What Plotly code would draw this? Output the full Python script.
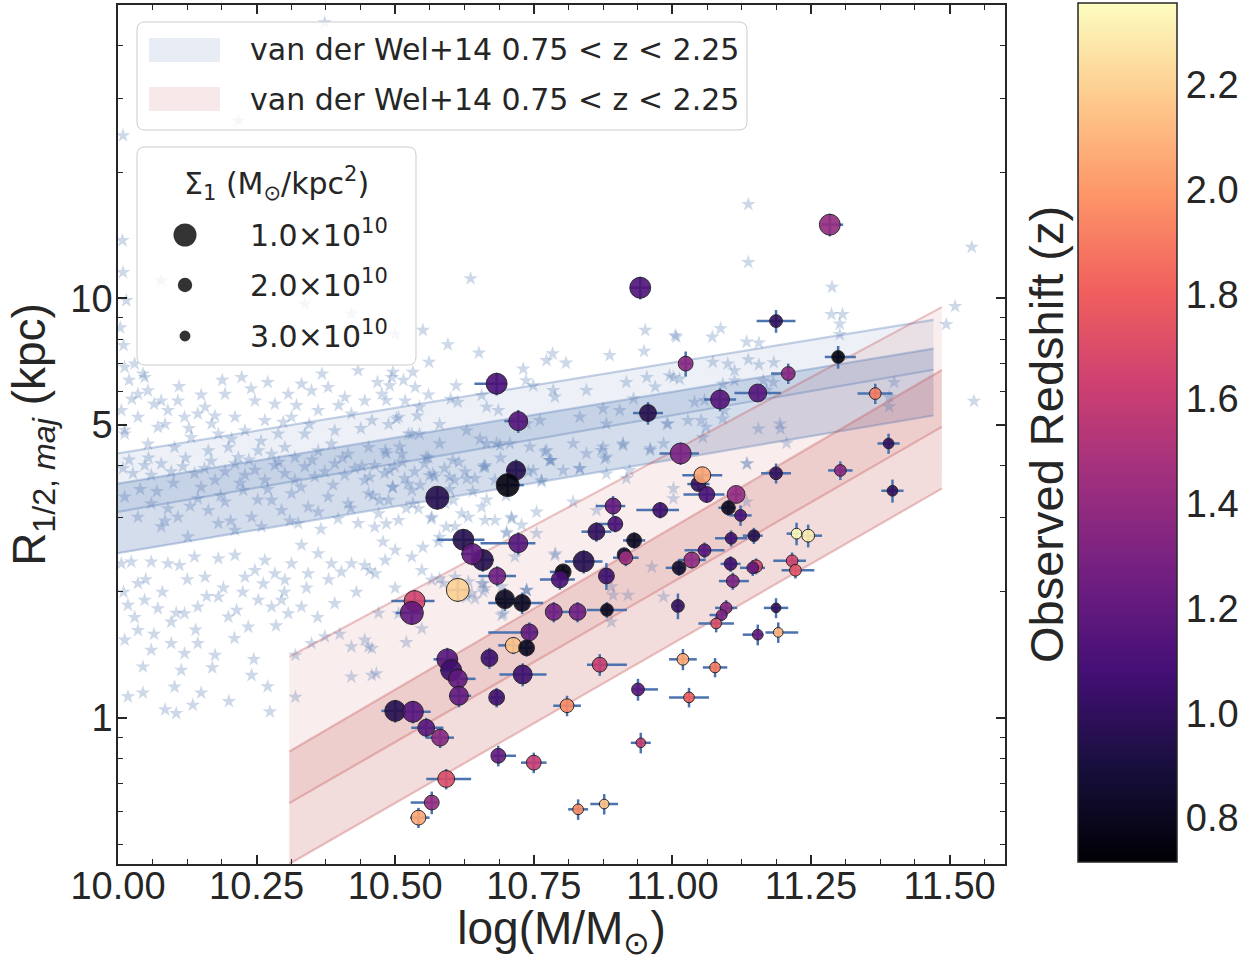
import numpy as np
import plotly.graph_objects as go

# ---------------- galaxy sample ----------------
mass = [11.284, 10.942, 11.187, 11.299, 11.024, 11.209, 10.683, 11.086, 11.154, 11.366,
        10.722, 10.956, 11.015, 11.390, 11.303, 11.187, 11.397, 11.047, 11.054, 11.062,
        11.115, 11.101, 11.123, 10.893, 10.978, 10.897, 10.863, 10.931, 10.840, 10.913,
        10.916, 10.803, 10.797, 10.881, 11.012, 11.035, 11.058, 11.106, 11.147, 11.224,
        11.245, 11.105, 11.151, 11.145, 11.109, 11.216, 11.222, 11.010, 11.097, 11.089,
        11.079, 11.187, 11.154, 11.191, 11.019, 11.077, 10.938, 11.030, 10.869, 10.810,
        10.943, 10.686, 10.750, 10.830, 10.877, 10.683, 10.730, 10.670, 10.742, 10.713,
        10.737, 10.786, 10.829, 10.882, 10.698, 10.729, 10.684, 10.722, 10.623, 10.658,
        10.639, 10.613, 10.535, 10.530, 10.594, 10.601, 10.613, 10.615, 10.500, 10.532,
        10.556, 10.581, 10.592, 10.566, 10.542, 10.576, 10.718, 10.703]

r_half = [14.98, 10.6, 8.83, 7.25, 6.99, 6.62, 6.26, 5.74, 5.95, 5.93,
          5.10, 5.33, 4.27, 4.51, 3.89, 3.83, 3.48, 3.61, 3.79, 3.41,
          3.41, 3.17, 3.04, 3.20, 3.13, 2.90, 2.78, 2.65, 2.36, 2.45,
          2.41, 2.23, 2.14, 2.18, 2.28, 2.38, 2.51, 2.68, 2.72, 2.75,
          2.72, 2.33, 2.30, 2.28, 2.12, 2.37, 2.25, 1.85, 1.83, 1.76,
          1.68, 1.83, 1.58, 1.60, 1.38, 1.32, 1.17, 1.12, 1.34, 1.07,
          0.873, 0.813, 0.783, 0.606, 0.624, 1.12, 1.27, 1.39, 1.60, 1.49,
          1.47, 1.79, 1.79, 1.81, 1.92, 1.88, 2.18, 2.61, 2.66, 2.38,
          2.46, 2.02, 1.90, 1.78, 1.38, 1.30, 1.24, 1.13, 1.04, 1.035,
          0.948, 0.898, 0.716, 0.629, 0.579, 3.35, 3.89, 3.59]

redshift = [1.40, 1.12, 1.00, 0.75, 1.35, 1.35, 1.10, 1.15, 1.15, 1.90,
            1.15, 0.95, 1.30, 1.00, 1.35, 1.00, 1.00, 1.00, 2.05, 1.10,
            1.40, 0.80, 1.10, 1.20, 1.05, 1.10, 1.00, 0.80, 0.95, 0.85,
            1.45, 0.75, 1.10, 1.05, 0.85, 1.40, 1.15, 1.05, 0.95, 2.35,
            2.30, 1.05, 1.65, 1.20, 1.30, 1.65, 1.75, 1.00, 1.35, 1.30,
            1.70, 1.00, 1.20, 2.10, 2.05, 1.90, 1.15, 1.80, 1.60, 1.95,
            1.60, 1.20, 1.60, 1.95, 2.15, 1.05, 1.05, 1.05, 1.20, 2.15,
            0.80, 1.25, 1.25, 0.80, 0.80, 0.80, 1.25, 1.15, 0.95, 0.95,
            1.20, 2.20, 1.65, 1.20, 1.15, 1.05, 1.20, 1.20, 0.95, 1.15,
            1.15, 1.35, 1.70, 1.40, 2.05, 0.95, 0.95, 0.75]

# Sigma_1 in units of 1e10 Msun / kpc^2
sigma1 = [1.15, 1.15, 2.38, 2.38, 1.91, 2.12, 1.15, 1.33, 1.45, 2.69,
          1.33, 1.58, 1.15, 3.08, 2.69, 2.38, 3.08, 1.91, 1.58, 1.73,
          1.45, 2.12, 2.69, 1.73, 1.91, 1.91, 1.58, 1.91, 1.15, 2.12,
          2.12, 1.73, 1.58, 1.73, 2.12, 1.73, 2.38, 2.69, 2.69, 3.08,
          2.38, 2.38, 2.38, 2.69, 2.38, 2.69, 2.69, 2.38, 2.69, 3.08,
          3.08, 3.58, 3.08, 3.58, 2.69, 3.08, 2.38, 3.08, 1.91, 2.12,
          3.58, 1.91, 1.91, 3.08, 3.58, 1.73, 1.33, 1.58, 1.58, 1.73,
          1.73, 1.58, 1.58, 2.38, 1.33, 1.58, 1.58, 1.33, 1.15, 1.15,
          1.15, 1.00, 1.15, 1.00, 1.15, 1.15, 1.33, 1.33, 1.15, 1.15,
          1.58, 1.58, 1.58, 1.91, 1.91, 1.00, 1.33, 1.00]

mass_err_lo = [0.015, 0.018, 0.035, 0.024, 0.010, 0.031, 0.040, 0.029, 0.042, 0.032,
               0.025, 0.027, 0.038, 0.020, 0.022, 0.027, 0.020, 0.020, 0.036, 0.042,
               0.010, 0.018, 0.020, 0.031, 0.043, 0.031, 0.027, 0.020, 0.034, 0.010,
               0.023, 0.024, 0.036, 0.010, 0.024, 0.025, 0.036, 0.029, 0.020, 0.018,
               0.010, 0.018, 0.010, 0.023, 0.025, 0.034, 0.025, 0.005, 0.020, 0.022,
               0.032, 0.022, 0.027, 0.023, 0.025, 0.022, 0.010, 0.036, 0.023, 0.025,
               0.018, 0.010, 0.023, 0.018, 0.025, 0.010, 0.042, 0.010, 0.074, 0.027,
               0.010, 0.010, 0.029, 0.036, 0.018, 0.061, 0.034, 0.068, 0.047, 0.020,
               0.020, 0.020, 0.042, 0.029, 0.025, 0.020, 0.018, 0.018, 0.025, 0.018,
               0.027, 0.025, 0.036, 0.038, 0.015, 0.020, 0.018, 0.018]

mass_err_hi = [0.024, 0.018, 0.035, 0.032, 0.010, 0.011, 0.018, 0.029, 0.042, 0.031,
               0.016, 0.027, 0.033, 0.020, 0.022, 0.027, 0.020, 0.020, 0.036, 0.032,
               0.010, 0.013, 0.020, 0.022, 0.034, 0.014, 0.027, 0.020, 0.034, 0.010,
               0.023, 0.010, 0.027, 0.010, 0.010, 0.025, 0.036, 0.029, 0.016, 0.010,
               0.025, 0.018, 0.010, 0.022, 0.029, 0.025, 0.034, 0.005, 0.020, 0.010,
               0.032, 0.022, 0.010, 0.036, 0.025, 0.022, 0.036, 0.036, 0.049, 0.025,
               0.018, 0.032, 0.023, 0.018, 0.025, 0.010, 0.043, 0.010, 0.016, 0.010,
               0.010, 0.010, 0.014, 0.036, 0.018, 0.038, 0.034, 0.031, 0.038, 0.020,
               0.020, 0.020, 0.036, 0.018, 0.018, 0.020, 0.032, 0.022, 0.018, 0.032,
               0.031, 0.025, 0.045, 0.010, 0.020, 0.020, 0.018, 0.029]

r_err = [0.93, 0.66, 0.55, 0.45, 0.48, 0.37, 0.39, 0.36, 0.20, 0.33,
         0.32, 0.33, 0.26, 0.25, 0.20, 0.21, 0.22, 0.12, 0.17, 0.15,
         0.15, 0.14, 0.17, 0.18, 0.14, 0.13, 0.15, 0.12, 0.15, 0.08,
         0.11, 0.07, 0.12, 0.16, 0.10, 0.11, 0.11, 0.12, 0.12, 0.17,
         0.17, 0.10, 0.10, 0.10, 0.10, 0.11, 0.10, 0.13, 0.08, 0.06,
         0.08, 0.10, 0.09, 0.09, 0.08, 0.07, 0.07, 0.06, 0.08, 0.06,
         0.049, 0.046, 0.044, 0.034, 0.035, 0.06, 0.08, 0.08, 0.09, 0.07,
         0.07, 0.10, 0.10, 0.08, 0.12, 0.11, 0.12, 0.16, 0.16, 0.15,
         0.15, 0.13, 0.12, 0.11, 0.09, 0.08, 0.08, 0.07, 0.065, 0.064,
         0.053, 0.050, 0.040, 0.039, 0.032, 0.21, 0.24, 0.22]

# ---------------- background comparison sample (log M, log R) ----------------
background_stars = [
    (10.012, 0.836), (10.030, 0.844), (10.048, 0.812), (10.036, 0.772), (10.054, 0.780),
    (10.078, 0.756), (10.090, 0.733), (10.108, 0.756), (10.120, 0.717), (10.144, 0.725),
    (10.157, 0.741), (10.169, 0.701), (10.181, 0.677), (10.193, 0.772), (10.211, 0.717),
    (10.223, 0.812), (10.229, 0.685), (10.247, 0.756), (10.265, 0.709), (10.283, 0.748),
    (10.289, 0.677), (10.307, 0.772), (10.313, 0.717), (10.331, 0.796), (10.337, 0.677),
    (10.349, 0.780), (10.361, 0.733), (10.379, 0.788), (10.391, 0.685), (10.409, 0.764),
    (10.421, 0.725), (10.433, 0.828), (10.445, 0.756), (10.458, 0.709), (10.476, 0.772),
    (10.494, 0.812), (10.506, 0.717), (10.518, 0.756), (10.524, 0.677), (10.536, 0.788),
    (10.012, 0.677), (10.036, 0.717), (10.054, 0.653), (10.072, 0.693), (10.102, 0.645),
    (10.132, 0.669), (10.163, 0.637), (10.199, 0.645), (10.217, 0.621), (10.253, 0.637),
    (10.277, 0.629), (10.301, 0.645), (10.319, 0.621), (10.361, 0.637), (10.385, 0.653),
    (10.415, 0.629), (10.452, 0.645), (10.482, 0.637), (10.512, 0.629), (10.530, 0.677),
    (10.009, 1.388), (10.009, 1.062), (10.217, 1.423), (10.078, 1.042), (10.337, 0.987),
    (10.421, 0.963), (10.500, 0.915), (10.373, 1.657),
    (10.009, 0.595), (10.027, 0.583), (10.048, 0.602), (10.060, 0.579), (10.078, 0.606),
    (10.096, 0.587), (10.117, 0.599), (10.138, 0.583), (10.156, 0.595), (10.175, 0.567),
    (10.193, 0.587), (10.211, 0.606), (10.229, 0.579), (10.247, 0.591), (10.265, 0.567),
    (10.283, 0.602), (10.301, 0.583), (10.319, 0.567), (10.337, 0.599), (10.355, 0.575),
    (10.373, 0.587), (10.391, 0.606), (10.409, 0.579), (10.427, 0.595), (10.445, 0.567),
    (10.463, 0.602), (10.481, 0.583), (10.499, 0.599), (10.517, 0.571), (10.535, 0.587),
    (10.553, 0.606), (10.571, 0.575), (10.589, 0.595), (10.607, 0.567), (10.626, 0.587),
    (10.644, 0.571), (10.662, 0.602), (10.680, 0.567), (10.740, 0.587), (10.764, 0.567),
    (10.782, 0.614),
    (10.012, 0.527), (10.036, 0.479), (10.060, 0.511), (10.078, 0.456), (10.090, 0.499),
    (10.108, 0.479), (10.126, 0.432), (10.144, 0.523), (10.163, 0.495), (10.181, 0.464),
    (10.193, 0.515), (10.211, 0.448), (10.226, 0.543), (10.241, 0.479), (10.259, 0.456),
    (10.277, 0.519), (10.295, 0.495), (10.313, 0.535), (10.325, 0.464), (10.343, 0.503),
    (10.361, 0.491), (10.379, 0.527), (10.397, 0.475), (10.415, 0.511), (10.433, 0.464),
    (10.452, 0.535), (10.470, 0.487), (10.488, 0.519), (10.506, 0.471), (10.530, 0.543),
    (10.542, 0.499), (10.566, 0.479), (10.590, 0.511), (10.608, 0.456), (10.632, 0.479),
    (10.656, 0.503), (10.680, 0.471), (10.710, 0.479), (10.728, 0.460),
    (10.006, 0.368), (10.024, 0.372), (10.036, 0.321), (10.060, 0.372), (10.090, 0.368),
    (10.111, 0.364), (10.138, 0.384), (10.157, 0.336), (10.181, 0.380), (10.211, 0.388),
    (10.229, 0.336), (10.247, 0.352), (10.265, 0.376), (10.283, 0.344), (10.301, 0.329),
    (10.313, 0.368), (10.331, 0.412), (10.343, 0.344), (10.361, 0.392), (10.385, 0.368),
    (10.403, 0.348), (10.421, 0.368), (10.445, 0.364), (10.464, 0.344), (10.482, 0.376),
    (10.500, 0.400), (10.530, 0.384), (10.548, 0.352), (10.566, 0.329), (10.587, 0.321),
    (10.608, 0.336), (10.632, 0.325), (10.662, 0.309), (10.692, 0.313), (10.789, 0.392),
    (10.018, 0.269), (10.048, 0.281), (10.072, 0.261), (10.096, 0.229), (10.120, 0.249),
    (10.144, 0.265), (10.181, 0.289), (10.199, 0.241), (10.214, 0.257), (10.235, 0.217),
    (10.253, 0.281), (10.277, 0.265), (10.295, 0.281), (10.307, 0.249), (10.331, 0.265),
    (10.349, 0.178), (10.373, 0.194), (10.391, 0.273), (10.421, 0.170), (10.445, 0.186),
    (10.458, 0.166), (10.506, 0.249), (10.548, 0.213), (10.638, 0.297), (10.656, 0.321),
    (10.737, 0.305),
    (10.012, 0.186), (10.018, 0.051), (10.036, 0.209), (10.045, 0.122), (10.060, 0.162),
    (10.096, 0.178), (10.120, 0.154), (10.144, 0.178), (10.102, 0.074), (10.114, 0.114),
    (10.135, 0.031), (10.175, 0.150), (10.241, 0.102), (10.274, 0.015), (10.105, 0.011),
    (10.421, 0.098), (10.458, 0.102), (10.452, 0.170),
    (10.636, 1.047), (10.550, 0.924), (10.595, 0.890), (10.651, 0.870), (10.561, 0.848),
    (10.532, 0.824), (10.496, 0.824), (10.484, 0.757), (10.490, 0.792), (10.610, 0.792),
    (10.613, 0.753), (10.502, 0.713), (10.544, 0.741), (10.656, 0.769), (10.665, 0.741),
    (10.686, 0.733), (10.731, 0.832), (10.736, 0.804), (10.749, 0.792), (10.773, 0.852),
    (10.784, 0.868), (10.808, 0.846), (10.785, 0.781), (10.788, 0.765), (10.845, 0.781),
    (10.887, 0.864), (10.917, 0.800), (10.951, 0.924), (10.949, 0.874), (10.954, 0.812),
    (10.969, 0.789), (11.005, 0.912), (11.002, 0.812), (10.833, 0.717), (10.875, 0.737),
    (10.881, 0.701), (10.905, 0.733), (10.930, 0.761), (10.990, 0.701), (10.544, 0.677),
    (10.580, 0.654), (10.629, 0.685), (10.653, 0.665), (10.683, 0.654), (10.707, 0.654),
    (10.737, 0.701), (10.761, 0.709), (10.773, 0.638), (10.779, 0.614), (10.821, 0.654),
    (10.845, 0.630), (10.875, 0.646), (10.881, 0.622), (10.911, 0.654), (10.960, 0.638),
    (10.984, 0.654), (10.484, 0.630), (10.508, 0.646), (10.556, 0.622), (10.604, 0.614),
    (10.659, 0.598), (10.568, 0.582), (10.490, 0.590), (10.749, 0.590), (10.803, 0.590),
    (10.833, 0.594), (10.881, 0.582), (10.923, 0.590),
    (11.137, 1.224), (11.137, 1.086), (11.288, 1.027), (11.287, 0.962), (11.307, 0.962),
    (11.302, 0.939), (11.302, 0.914), (11.540, 1.122), (11.510, 0.981), (11.494, 0.938),
    (11.544, 0.755), (11.007, 0.908), (11.072, 0.908), (11.087, 0.928), (11.134, 0.896),
    (11.156, 0.894), (11.073, 0.848), (11.100, 0.844), (11.112, 0.828), (11.137, 0.854),
    (11.156, 0.842), (11.183, 0.847), (10.995, 0.816), (11.013, 0.808), (11.091, 0.796),
    (11.112, 0.804), (11.164, 0.804), (11.182, 0.800), (11.040, 0.753), (11.058, 0.757),
    (11.094, 0.733), (11.170, 0.781), (10.992, 0.701), (11.028, 0.709), (11.052, 0.709),
    (11.061, 0.693), (11.091, 0.713), (11.155, 0.689), (11.194, 0.701), (11.195, 0.689),
    (11.206, 0.655), (11.055, 0.669), (11.135, 0.606), (11.400, 0.800), (11.391, 0.765),
    (11.391, 0.742),
    (10.662, 0.598), (10.665, 0.654), (10.689, 0.650), (10.743, 0.646), (10.770, 0.634),
    (10.779, 0.614), (10.833, 0.595), (10.872, 0.638), (10.878, 0.618), (10.911, 0.650),
    (10.960, 0.642), (10.764, 0.563), (10.821, 0.515), (10.755, 0.491), (10.710, 0.475),
    (10.662, 0.471), (10.701, 0.440), (10.755, 0.440), (10.863, 0.495), (10.917, 0.571),
    (11.002, 0.547), (11.002, 0.523), (11.134, 0.606), (11.134, 0.515), (10.788, 0.388),
    (10.716, 0.384), (10.737, 0.305), (10.659, 0.301), (10.692, 0.245), (10.890, 0.313),
    (10.893, 0.293), (10.920, 0.293), (10.963, 0.360), (10.984, 0.289), (10.890, 0.229),
    (10.454, 0.574), (10.496, 0.550), (10.523, 0.558), (10.562, 0.578), (10.598, 0.574),
    (10.629, 0.570), (10.472, 0.519), (10.532, 0.511), (10.565, 0.475), (10.605, 0.519),
    (10.620, 0.487), (10.463, 0.455), (10.484, 0.463), (10.550, 0.407), (10.580, 0.431),
    (10.592, 0.455), (10.701, 0.443), (10.647, 0.395), (10.580, 0.332), (10.659, 0.320),
    (10.644, 0.284), (10.629, 0.288), (10.737, 0.304), (10.695, 0.249), (10.454, 0.352),
    (10.466, 0.106),
    (10.008, 1.138), (10.015, 0.995), (10.010, 0.888), (10.020, 0.805), (10.006, 0.733),
    (10.012, 0.686), (10.025, 0.760), (10.004, 0.930),
    (10.045, 0.820), (10.065, 0.748), (10.085, 0.700), (10.110, 0.790), (10.128, 0.690),
    (10.150, 0.770), (10.175, 0.720), (10.188, 0.805), (10.205, 0.665), (10.240, 0.785),
    (10.258, 0.660), (10.270, 0.800), (10.298, 0.705), (10.322, 0.745), (10.345, 0.700),
    (10.368, 0.820), (10.398, 0.745), (10.438, 0.690), (10.468, 0.800), (10.488, 0.700),
    (10.515, 0.805), (10.540, 0.720), (10.560, 0.770), (10.580, 0.700), (10.600, 0.760),
    (10.020, 0.615), (10.040, 0.545), (10.055, 0.620), (10.070, 0.540), (10.085, 0.470),
    (10.100, 0.560), (10.122, 0.620), (10.130, 0.505), (10.150, 0.550), (10.168, 0.612),
    (10.185, 0.530), (10.203, 0.470), (10.220, 0.560), (10.236, 0.615), (10.252, 0.520),
    (10.270, 0.545), (10.290, 0.610), (10.310, 0.470), (10.330, 0.550), (10.350, 0.615),
    (10.366, 0.450), (10.388, 0.555), (10.405, 0.620), (10.420, 0.500), (10.440, 0.600),
    (10.460, 0.530), (10.478, 0.420), (10.495, 0.550), (10.513, 0.610), (10.520, 0.500),
    (10.545, 0.555), (10.560, 0.620), (10.578, 0.420), (10.598, 0.545), (10.615, 0.610),
    (10.640, 0.540), (10.665, 0.520), (10.690, 0.620), (10.700, 0.530), (10.720, 0.600),
    (10.010, 0.300), (10.030, 0.240), (10.050, 0.330), (10.065, 0.200), (10.080, 0.300),
    (10.105, 0.250), (10.125, 0.330), (10.140, 0.210), (10.160, 0.290), (10.170, 0.120),
    (10.190, 0.310), (10.210, 0.190), (10.225, 0.300), (10.245, 0.140), (10.262, 0.320),
    (10.285, 0.220), (10.300, 0.300), (10.320, 0.150), (10.340, 0.310), (10.360, 0.240),
    (10.380, 0.330), (10.400, 0.200), (10.430, 0.300), (10.470, 0.250), (10.500, 0.310),
    (10.520, 0.180), (10.045, 0.060), (10.085, 0.020), (10.150, 0.060), (10.200, 0.040),
    (10.270, 0.075), (10.320, 0.050),
]

# ---------------- van der Wel+14 bands (edge values, kpc) ----------------
late_mass = [10.0, 11.471]
late_upper_a = [4.27, 8.89]
late_lower_a = [3.10, 6.76]
late_upper_b = [3.62, 7.59]
late_lower_b = [2.47, 5.26]
early_mass = [10.309, 11.486]
early_upper_a = [1.40, 9.53]
early_lower_a = [0.627, 4.94]
early_upper_b = [0.832, 6.75]
early_lower_b = [0.449, 3.52]

legend_label = "van der Wel+14 0.75 &lt; z &lt; 2.25"
legend_sigma = [1.0, 2.0, 3.0]
legend_sigma_text = ["1.0×10<sup>10</sup>", "2.0×10<sup>10</sup>", "3.0×10<sup>10</sup>"]
x_ticks = [10.0, 10.25, 10.5, 10.75, 11.0, 11.25, 11.5]
y_ticks = [1, 5, 10]
y_minor = [0.5, 0.6, 0.7, 0.8, 0.9, 2, 3, 4, 6, 7, 8, 9, 20, 30, 40]
cbar_ticks = [0.8, 1.0, 1.2, 1.4, 1.6, 1.8, 2.0, 2.2]

# ---------------- styling helpers ----------------
W, H = 1252, 961
PL, PR, PT, PB = 118, 1005, 5, 864
BLUE = (76, 114, 176)
RED = (196, 78, 82)
INK = "#262626"
FONT = "Liberation Sans, Arial, sans-serif"
LFONT = "DejaVu Sans, sans-serif"


def rgba(c, a):
    return f"rgba({c[0]},{c[1]},{c[2]},{a})"


def sigma_to_size(s):
    return 23.0 * np.asarray(s, dtype=float) ** -0.68


def xp(px):
    return (px - PL) / (PR - PL)


def yp(py):
    return (PB - py) / (PB - PT)


def rrect(x0, y0, x1, y1, r=8):
    def P(x, y):
        return f"{xp(x):.5f},{yp(y):.5f}"
    return (f"M{P(x0 + r, y0)} L{P(x1 - r, y0)} Q{P(x1, y0)} {P(x1, y0 + r)} "
            f"L{P(x1, y1 - r)} Q{P(x1, y1)} {P(x1 - r, y1)} L{P(x0 + r, y1)} "
            f"Q{P(x0, y1)} {P(x0, y1 - r)} L{P(x0, y0 + r)} Q{P(x0, y0)} {P(x0 + r, y0)} Z")


fig = go.Figure()


def add_band(m, up, lo, color, alpha):
    fig.add_trace(go.Scatter(x=[m[0], m[1], m[1], m[0], m[0]],
                             y=[up[0], up[1], lo[1], lo[0], up[0]],
                             mode="lines", fill="toself", fillcolor=rgba(color, alpha),
                             line=dict(width=0), hoverinfo="skip", showlegend=False))


def add_edge(m, v, color):
    fig.add_trace(go.Scatter(x=m, y=v, mode="lines",
                             line=dict(color=rgba(color, 0.32), width=2.2),
                             hoverinfo="skip", showlegend=False))


add_band(late_mass, late_upper_a, late_lower_a, BLUE, 0.10)
add_band(late_mass, late_upper_b, late_lower_b, BLUE, 0.24)
add_band(early_mass, early_upper_a, early_lower_a, RED, 0.10)
add_band(early_mass, early_upper_b, early_lower_b, RED, 0.20)
for v in (late_upper_a, late_lower_a, late_upper_b, late_lower_b):
    add_edge(late_mass, v, BLUE)
for v in (early_upper_a, early_lower_a, early_upper_b, early_lower_b):
    add_edge(early_mass, v, RED)

star_mass = [p[0] for p in background_stars]
star_r = [10 ** p[1] for p in background_stars]
fig.add_trace(go.Scatter(x=star_mass, y=star_r, mode="markers",
                         marker=dict(symbol="star", size=11, color=rgba(BLUE, 0.28),
                                     line=dict(width=0)),
                         hoverinfo="skip", showlegend=False))

fig.add_trace(go.Scatter(
    x=mass, y=r_half, mode="markers", showlegend=False,
    error_x=dict(type="data", symmetric=False, array=mass_err_hi, arrayminus=mass_err_lo,
                 color="#4c72b0", thickness=2.5, width=0),
    error_y=dict(type="data", array=r_err, color="#4c72b0", thickness=2.5, width=0),
    marker=dict(size=sigma_to_size(sigma1), color=redshift, colorscale="Magma",
                cmin=0.716, cmax=2.356, opacity=0.9,
                line=dict(color="#1a1a1a", width=1),
                showscale=True,
                colorbar=dict(thickness=99, thicknessmode="pixels", len=859, lenmode="pixels",
                              x=xp(1078), xanchor="left", xref="paper",
                              y=yp(432.5), yanchor="middle", yref="paper",
                              xpad=0, ypad=0,
                              outlinewidth=1.5, outlinecolor=INK,
                              tickvals=cbar_ticks, ticktext=[f"{t:.1f}" for t in cbar_ticks],
                              ticks="", tickfont=dict(size=38, family=FONT, color=INK))),
))

# ---------------- legends (drawn in paper coordinates) ----------------
shapes = []
annotations = []
shapes.append(dict(type="path", xref="paper", yref="paper", path=rrect(137, 22, 747, 130),
                   fillcolor="rgba(255,255,255,0.8)", line=dict(color="#cccccc", width=1)))
for (y0, y1), col in zip([(38, 62), (87, 111)], [BLUE, RED]):
    shapes.append(dict(type="rect", xref="paper", yref="paper",
                       x0=xp(149), x1=xp(220), y0=yp(y1), y1=yp(y0),
                       fillcolor=rgba(col, 0.13), line=dict(width=0)))
for yc in (50, 99):
    annotations.append(dict(xref="paper", yref="paper", x=xp(248), y=yp(yc),
                            xanchor="left", yanchor="middle", showarrow=False,
                            text=legend_label, font=dict(size=30, family=LFONT, color=INK)))

shapes.append(dict(type="path", xref="paper", yref="paper", path=rrect(137, 147, 416, 365),
                   fillcolor="rgba(255,255,255,0.8)", line=dict(color="#cccccc", width=1)))
annotations.append(dict(xref="paper", yref="paper", x=xp(276), y=yp(183),
                        xanchor="center", yanchor="middle", showarrow=False,
                        text="Σ<sub>1</sub> (M<sub>⊙</sub>/kpc<sup>2</sup>)",
                        font=dict(size=30, family=LFONT, color=INK)))
for s, txt, yc in zip(legend_sigma, legend_sigma_text, (235, 285, 336)):
    rad = float(sigma_to_size(s)) / 2
    shapes.append(dict(type="circle", xref="paper", yref="paper",
                       xsizemode="pixel", ysizemode="pixel",
                       xanchor=xp(185), yanchor=yp(yc),
                       x0=-rad, x1=rad, y0=-rad, y1=rad,
                       fillcolor="#333333", line=dict(width=0)))
    annotations.append(dict(xref="paper", yref="paper", x=xp(248), y=yp(yc - 2),
                            xanchor="left", yanchor="middle", showarrow=False,
                            text=txt, font=dict(size=30, family=LFONT, color=INK)))

annotations.append(dict(xref="paper", yref="paper", x=xp(1046), y=yp(435),
                        xanchor="center", yanchor="middle", showarrow=False,
                        textangle=-90, text="Observed Redshift (z)",
                        font=dict(size=47, family=FONT, color=INK)))

axis_common = dict(showline=True, linecolor=INK, linewidth=1.5, mirror="allticks",
                   ticks="inside", ticklen=9, tickwidth=1.5, tickcolor=INK,
                   showgrid=False, zeroline=False,
                   tickfont=dict(size=38, family=FONT, color=INK))

fig.update_layout(
    width=W, height=H,
    margin=dict(l=PL, r=W - PR, t=PT, b=H - PB, autoexpand=False),
    paper_bgcolor="white", plot_bgcolor="white",
    font=dict(family=FONT, color=INK),
    showlegend=False,
    shapes=shapes, annotations=annotations,
    xaxis=dict(range=[10.0, 11.6], tickvals=x_ticks,
               ticktext=[f"{t:.2f}" for t in x_ticks],
               ticklabelstandoff=-12,
               minor=dict(ticks="inside", dtick=0.0625, tick0=10.0, ticklen=5,
                          tickwidth=1.2, tickcolor=INK),
               title=dict(text="log(M/M<sub>⊙</sub>)", standoff=25,
                          font=dict(size=46, family=FONT, color=INK)),
               **axis_common),
    yaxis=dict(type="log", range=[np.log10(0.449), np.log10(50)],
               tickvals=y_ticks, ticktext=[str(t) for t in y_ticks],
               ticklabelstandoff=-4,
               minor=dict(ticks="inside", tickvals=y_minor, ticklen=5,
                          tickwidth=1.2, tickcolor=INK),
               title=dict(text="R<sub>1/2, <i>maj</i></sub> (kpc)", standoff=10,
                          font=dict(size=46, family=FONT, color=INK)),
               **axis_common),
)

fig.write_html("out.html", config={"displayModeBar": False},
               post_script="document.body.style.margin='0px';")
